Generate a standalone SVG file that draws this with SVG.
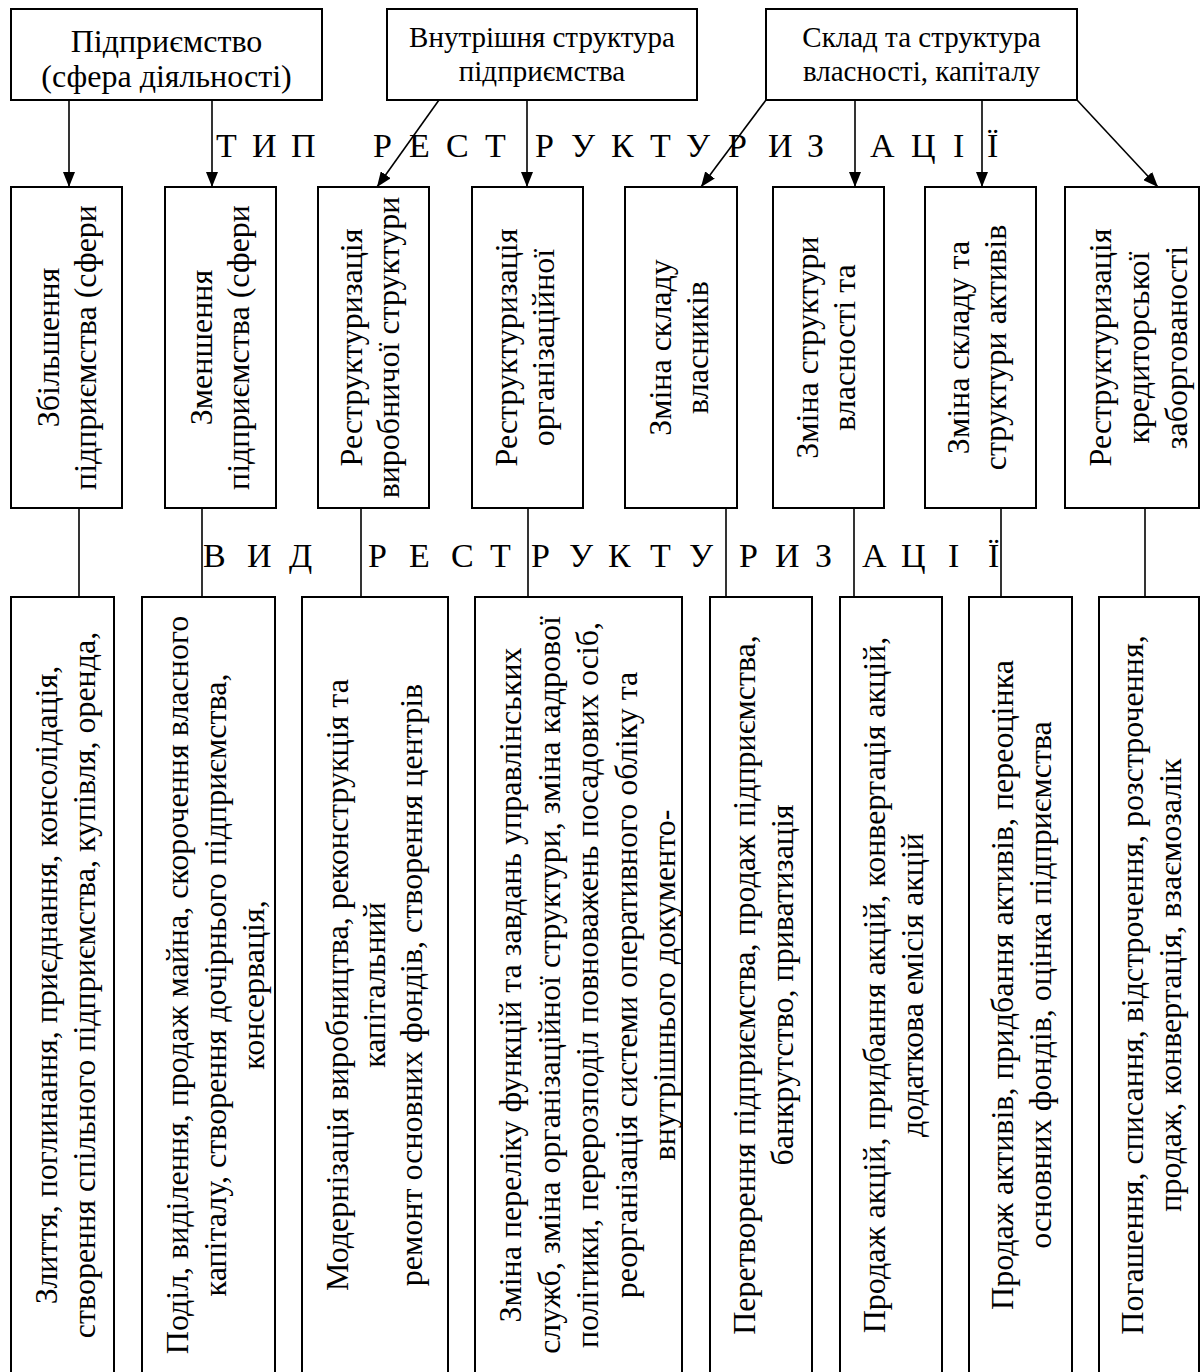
<svg xmlns="http://www.w3.org/2000/svg" width="1200" height="1372" viewBox="0 0 1200 1372">
<defs>
<style>
.box{fill:#fff;stroke:#000;stroke-width:2}
.ln{stroke:#000;stroke-width:1.6;fill:none}
.arr{marker-end:url(#ah)}
text{font-family:"Liberation Serif","Times New Roman",serif;fill:#000}
.th{font-size:32px;text-anchor:middle}
.ts{font-size:29px;text-anchor:middle}
.v{font-size:32px;text-anchor:middle}
.big{font-size:34px}
</style>
<marker id="ah" viewBox="0 0 15 12" refX="15" refY="6" markerWidth="15" markerHeight="12" markerUnits="userSpaceOnUse" orient="auto">
<path d="M0,0 L15,6 L0,12 Z" fill="#000"/>
</marker>
</defs>
<rect width="1200" height="1372" fill="#fff"/>

<g id="connectors">
<line class="ln arr" x1="69" y1="100" x2="69" y2="187"/>
<line class="ln arr" x1="212" y1="100" x2="212" y2="187"/>
<line class="ln arr" x1="439" y1="100" x2="377" y2="187"/>
<line class="ln arr" x1="527" y1="100" x2="527" y2="187"/>
<line class="ln arr" x1="766" y1="100" x2="701" y2="187"/>
<line class="ln arr" x1="855" y1="100" x2="855" y2="187"/>
<line class="ln arr" x1="982" y1="100" x2="982" y2="187"/>
<line class="ln arr" x1="1077" y1="100" x2="1158" y2="187"/>
<line class="ln" x1="79" y1="508" x2="79" y2="597"/>
<line class="ln" x1="202" y1="508" x2="202" y2="597"/>
<line class="ln" x1="361" y1="508" x2="361" y2="597"/>
<line class="ln" x1="528" y1="508" x2="528" y2="597"/>
<line class="ln" x1="726" y1="508" x2="726" y2="597"/>
<line class="ln" x1="854" y1="508" x2="854" y2="597"/>
<line class="ln" x1="1001" y1="508" x2="1001" y2="597"/>
<line class="ln" x1="1145" y1="508" x2="1145" y2="597"/>
</g>

<g id="labels">
<text class="big" x="216 252 291 330 373 409 446 485 535 571 611 650 686 728 768 807 870 911 953 987" y="157">ТИП РЕСТРУКТУРИЗАЦІЇ</text>
<text class="big" x="203 247 289 330 368 409 451 490 531 569 608 650 689 739 775 815 862 901 948 988" y="567">ВИД РЕСТРУКТУРИЗАЦІЇ</text>
</g>

<g id="top-enterprise">
<rect class="box" x="11" y="9" width="311" height="91"/>
<text class="th" x="166.5" y="52">Підприємство</text>
<text class="th" x="166.5" y="87">(сфера діяльності)</text>
</g>
<g id="top-internal">
<rect class="box" x="387" y="9" width="310" height="91"/>
<text class="ts" x="542" y="47">Внутрішня структура</text>
<text class="ts" x="542" y="81">підприємства</text>
</g>
<g id="top-ownership">
<rect class="box" x="766" y="9" width="311" height="91"/>
<text class="ts" x="921.5" y="47">Склад та структура</text>
<text class="ts" x="921.5" y="81">власності, капіталу</text>
</g>

<g id="type-increase">
<rect class="box" x="11" y="187" width="111" height="321"/>
<text class="v" transform="translate(0,347.5) rotate(-90)"><tspan x="0" y="59">Збільшення</tspan><tspan x="0" y="96">підприємства (сфери</tspan></text>
</g>
<g id="type-decrease">
<rect class="box" x="165" y="187" width="111" height="321"/>
<text class="v" transform="translate(0,347.5) rotate(-90)"><tspan x="0" y="212">Зменшення</tspan><tspan x="0" y="249">підприємства (сфери</tspan></text>
</g>
<g id="type-production">
<rect class="box" x="318" y="187" width="111" height="321"/>
<text class="v" transform="translate(0,347.5) rotate(-90)"><tspan x="0" y="362">Реструктуризація</tspan><tspan x="0" y="399">виробничої структури</tspan></text>
</g>
<g id="type-organization">
<rect class="box" x="472" y="187" width="111" height="321"/>
<text class="v" transform="translate(0,347.5) rotate(-90)"><tspan x="0" y="517">Реструктуризація</tspan><tspan x="0" y="554">організаційної</tspan></text>
</g>
<g id="type-owners">
<rect class="box" x="625" y="187" width="112" height="321"/>
<text class="v" transform="translate(0,347.5) rotate(-90)"><tspan x="0" y="671">Зміна складу</tspan><tspan x="0" y="708">власників</tspan></text>
</g>
<g id="type-ownership">
<rect class="box" x="773" y="187" width="111" height="321"/>
<text class="v" transform="translate(0,347.5) rotate(-90)"><tspan x="0" y="818">Зміна структури</tspan><tspan x="0" y="855">власності та</tspan></text>
</g>
<g id="type-assets">
<rect class="box" x="925" y="187" width="111" height="321"/>
<text class="v" transform="translate(0,347.5) rotate(-90)"><tspan x="0" y="969">Зміна складу та</tspan><tspan x="0" y="1006">структури активів</tspan></text>
</g>
<g id="type-debt">
<rect class="box" x="1065" y="187" width="134" height="321"/>
<text class="v" transform="translate(0,347.5) rotate(-90)"><tspan x="0" y="1111">Реструктуризація</tspan><tspan x="0" y="1149">кредиторської</tspan><tspan x="0" y="1187">заборгованості</tspan></text>
</g>

<g id="kind-merge">
<rect class="box" x="11" y="597" width="103" height="790"/>
<text class="v" transform="translate(0,985) rotate(-90)"><tspan x="0" y="57">Злиття, поглинання, приєднання, консолідація,</tspan><tspan x="0" y="95">створення спільного підприємства, купівля, оренда,</tspan></text>
</g>
<g id="kind-split">
<rect class="box" x="142" y="597" width="133" height="790"/>
<text class="v" transform="translate(0,985) rotate(-90)"><tspan x="0" y="188">Поділ, виділення, продаж майна, скорочення власного</tspan><tspan x="0" y="226">капіталу, створення дочірнього підприємства,</tspan><tspan x="0" y="264">консервація,</tspan></text>
</g>
<g id="kind-modernization">
<rect class="box" x="302" y="597" width="146" height="790"/>
<text class="v" transform="translate(0,985) rotate(-90)"><tspan x="0" y="348">Модернізація виробництва, реконструкція та</tspan><tspan x="0" y="385">капітальний</tspan><tspan x="0" y="422">ремонт основних фондів, створення центрів</tspan></text>
</g>
<g id="kind-functions">
<rect class="box" x="475" y="597" width="207" height="790"/>
<text class="v" transform="translate(0,985) rotate(-90)"><tspan x="0" y="521">Зміна переліку функцій та завдань управлінських</tspan><tspan x="0" y="560">служб, зміна організаційної структури, зміна кадрової</tspan><tspan x="0" y="598">політики, перерозподіл повноважень посадових осіб,</tspan><tspan x="0" y="637">реорганізація системи оперативного обліку та</tspan><tspan x="0" y="675">внутрішнього документо-</tspan></text>
</g>
<g id="kind-transformation">
<rect class="box" x="710" y="597" width="102" height="790"/>
<text class="v" transform="translate(0,985) rotate(-90)"><tspan x="0" y="755">Перетворення підприємства, продаж підприємства,</tspan><tspan x="0" y="793">банкрутство, приватизація</tspan></text>
</g>
<g id="kind-shares">
<rect class="box" x="840" y="597" width="102" height="790"/>
<text class="v" transform="translate(0,985) rotate(-90)"><tspan x="0" y="885">Продаж акцій, придбання акцій, конвертація акцій,</tspan><tspan x="0" y="923">додаткова емісія акцій</tspan></text>
</g>
<g id="kind-assets">
<rect class="box" x="969" y="597" width="103" height="790"/>
<text class="v" transform="translate(0,985) rotate(-90)"><tspan x="0" y="1013">Продаж активів, придбання активів, переоцінка</tspan><tspan x="0" y="1051">основних фондів, оцінка підприємства</tspan></text>
</g>
<g id="kind-debt">
<rect class="box" x="1099" y="597" width="100" height="790"/>
<text class="v" transform="translate(0,985) rotate(-90)"><tspan x="0" y="1143">Погашення, списання, відстрочення, розстрочення,</tspan><tspan x="0" y="1181">продаж, конвертація, взаємозалік</tspan></text>
</g>
</svg>
